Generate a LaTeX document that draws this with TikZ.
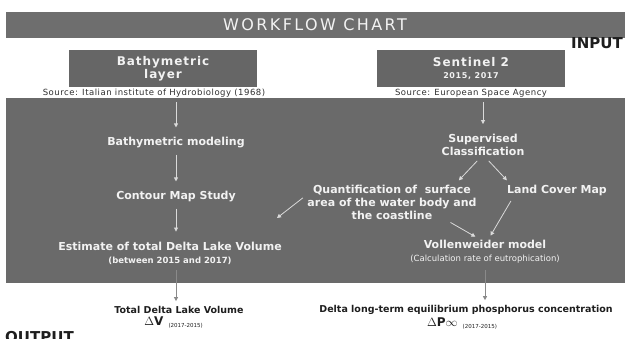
\documentclass[tikz,border=0pt]{standalone}
\usepackage{fontspec}
\setmainfont{DejaVu Sans}
\newfontfamily\titlefont[LetterSpace=15]{DejaVu Sans}
\newfontfamily\boxfont[LetterSpace=8]{DejaVu Sans}
\newfontfamily\notefont[LetterSpace=6]{DejaVu Sans}
\usetikzlibrary{arrows.meta, positioning, calc}
\definecolor{bargray}{HTML}{6E6E6E}
\definecolor{panelgray}{HTML}{6A6A6A}
\definecolor{boxgray}{HTML}{666666}
\definecolor{inkwhite}{HTML}{F2F2F2}
\definecolor{flowline}{HTML}{DADADA}
\definecolor{outline}{HTML}{8A8A8A}
\definecolor{srcink}{HTML}{2E2E2E}
\definecolor{outink}{HTML}{1E1E1E}

\begin{document}
\begin{tikzpicture}[x=1pt,y=-1pt,
  stage/.style={text=inkwhite, font=\fontsize{11}{13}\selectfont\bfseries,
                align=center, inner sep=2pt},
  inbox/.style={fill=boxgray, text=inkwhite, minimum width=188pt,
                minimum height=37pt, inner sep=0pt, align=center,
                font=\boxfont\fontsize{12}{13}\selectfont\bfseries},
  srcnote/.style={text=srcink, font=\notefont\fontsize{8.5}{10}\selectfont, inner sep=1pt},
  result/.style={text=outink, font=\fontsize{9.5}{12}\selectfont\bfseries,
                 align=center, inner sep=2pt},
  flow/.style={draw=flowline, line width=0.8pt,
               -{Triangle[length=4pt,width=4pt]}, shorten >=8pt, shorten <=4pt},
  outflow/.style={draw=outline, line width=0.8pt,
                  -{Triangle[length=4pt,width=4pt]}, shorten >=3pt, shorten <=4pt}]
  \clip (0,0) rectangle (625,338);
  % header and grey panel
  \fill[bargray] (6,12) rectangle (625,38);
  \fill[panelgray] (6,98) rectangle (625,283);
  \node[text=inkwhite, font=\titlefont\fontsize{16}{16}\selectfont] (title) at (315,25) {WORKFLOW CHART};
  \node[anchor=base west, font=\fontsize{15}{15}\selectfont\bfseries, text=outink, inner sep=0pt] (inlbl) at (571,48) {INPUT};
  \node[anchor=base west, font=\fontsize{15}{15}\selectfont\bfseries, text=outink, inner sep=0pt] (outlbl) at (5,342) {OUTPUT};

  % inputs
  \node[inbox] (bath) at (163,68.5) {Bathymetric\\layer};
  \node[inbox] (sent) at (471,68.5) {Sentinel 2\\[-1pt]{\fontsize{8}{9}\selectfont 2015, 2017}};
  \node[srcnote] (srcL) at (154,93) {Source: Italian institute of Hydrobiology (1968)};
  \node[srcnote] (srcR) at (471,93) {Source: European Space Agency};

  % left branch
  \node[stage] (model) at (176,143) {Bathymetric modeling};
  \node[stage] (contour) at (176,197) {Contour Map Study};
  \node[stage] (est) at (170,253) {Estimate of total Delta Lake Volume\\
    {\fontsize{8.5}{10}\selectfont (between 2015 and 2017)}};
  \node[result] (total) at (179,310) {Total Delta Lake Volume};
  \node[result, below=-1pt of total.south west, anchor=north west, xshift=30pt] (dv)
    {{\fontsize{12}{12}\selectfont $\Delta$V}\hspace{5pt}\raisebox{-2pt}{\fontsize{5.5}{6}\selectfont\mdseries (2017-2015)}};

  % right branch
  \node[stage] (sup) at (483,145) {Supervised\\Classification};
  \node[stage] (quant) at (392,202) {Quantification of \ surface\\area of the water body and\\the coastline};
  \node[stage] (land) at (557,190) {Land Cover Map};
  \node[stage] (voll) at (485,252) {Vollenweider model\\
    {\fontsize{8.5}{10}\selectfont\mdseries (Calculation rate of eutrophication)}};
  \node[result] (delta) at (466,310) {Delta long-term equilibrium phosphorus concentration};
  \node[result, below=-1pt of delta, xshift=-4pt] (dp)
    {{\fontsize{12}{12}\selectfont $\Delta$P$\infty$}\hspace{5pt}\raisebox{-2pt}{\fontsize{5.5}{6}\selectfont\mdseries (2017-2015)}};
  \coordinate (estin) at (277,218);

  % connectors
  \draw[flow] (srcL.south -| model.north) -- (model.north);
  \draw[flow] (model) -- (contour);
  \draw[flow] (contour.south) -- (contour.south |- est.north);
  \draw[outflow] (contour.south |- est.south) -- (contour.south |- total.north);
  \draw[flow] (srcR.south -| sup.north) -- (sup.north);
  \draw[flow, shorten >=3pt] ([xshift=-3pt]sup.south) -- ([xshift=-22pt]quant.north east);
  \draw[flow, shorten >=3pt] ([xshift=3pt]sup.south) -- ([xshift=4pt]land.north west);
  \draw[flow, shorten >=0pt, shorten <=3pt] ([yshift=6pt]quant.west) -- (estin);
  \draw[flow, shorten >=3pt, shorten <=2pt] ([xshift=-30pt]quant.south east) -- ([xshift=-7pt]voll.north);
  \draw[flow, shorten >=3pt] ([xshift=8pt]land.south west) -- ([xshift=4pt]voll.north);
  \draw[outflow] (voll.south) -- (voll.south |- delta.north);
\end{tikzpicture}
\end{document}
